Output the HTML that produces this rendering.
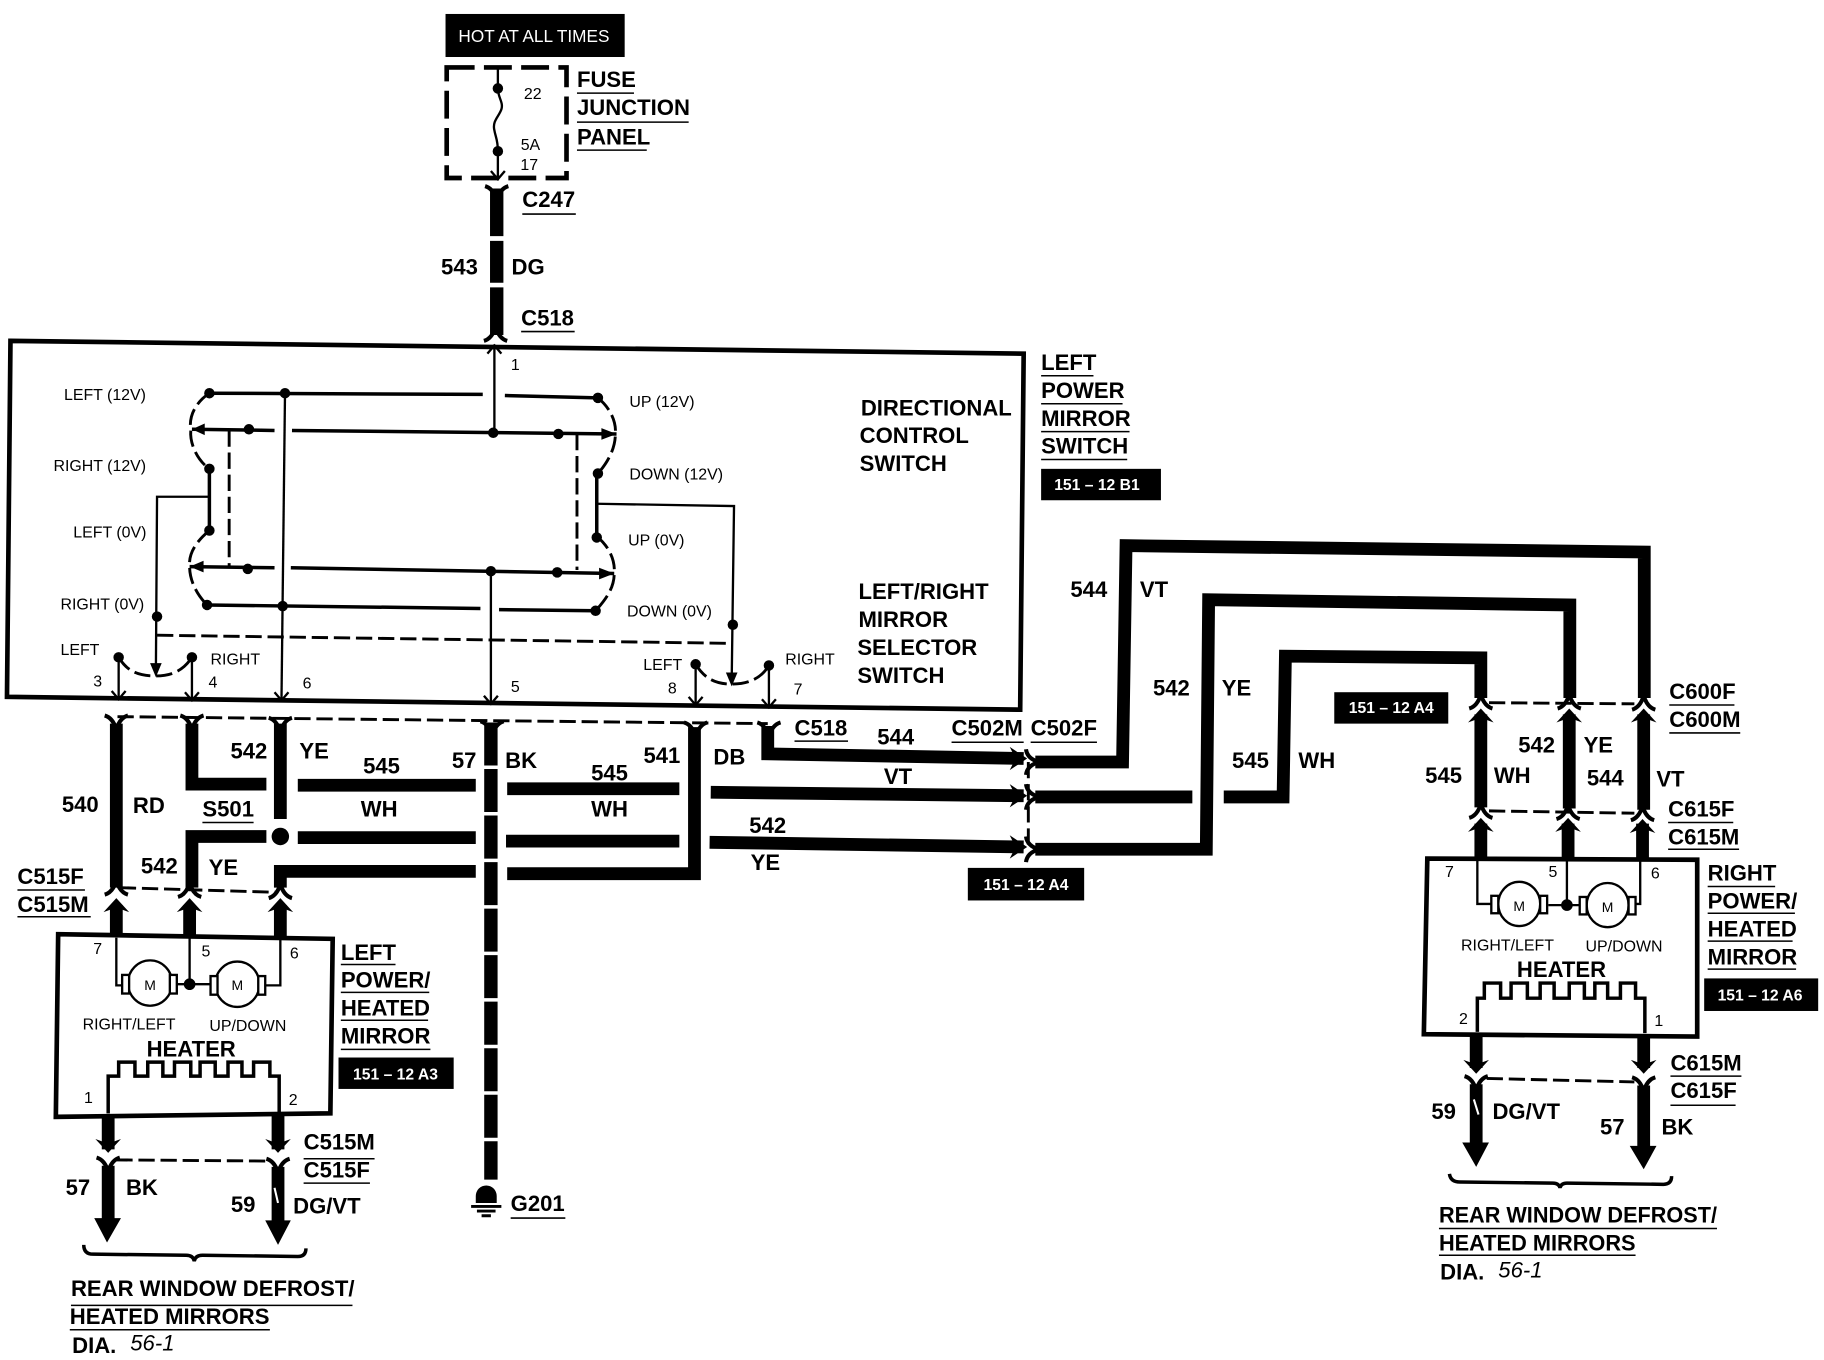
<!DOCTYPE html>
<html>
<head>
<meta charset="utf-8">
<style>
html,body{margin:0;padding:0;background:#fff}
svg{display:block}
text{font-family:"Liberation Sans",sans-serif;fill:#000}
.b{font-weight:bold;font-size:19px}
.n{font-size:13.7px}
.m{text-anchor:middle}
.w{fill:#fff;font-size:13.5px;text-anchor:middle;font-weight:bold}
.i{font-style:italic;font-size:19px}
.t{fill:none;stroke:#000;stroke-width:2}
.s{fill:none;stroke:#000;stroke-width:3}
.d{fill:none;stroke:#000;stroke-width:2.5;stroke-dasharray:14 5}
.h{fill:none;stroke:#000;stroke-width:11;stroke-linejoin:miter}
.u{fill:none;stroke:#000;stroke-width:1.3}
.f{fill:none;stroke:#000;stroke-width:3.5}
</style>
</head>
<body>
<svg xmlns="http://www.w3.org/2000/svg" width="1824" height="1360" viewBox="0 0 1568 1169" preserveAspectRatio="none">
<defs>
<path id="fu" d="M-10,-7 Q-3,-5 0,5 Q3,-5 10,-7"/>
<path id="fd" d="M-10,7 Q-3,5 0,-5 Q3,5 10,7"/>
<path id="au" d="M-11,9 L0,-3 L11,9 L0,5 Z"/>
<path id="ad" d="M-11,-9 L0,3 L11,-9 L0,-5 Z"/>
<path id="ar" d="M-9,-10 L6,0 L-9,10 L-4,0 Z"/>
<path id="fr" d="M-4,-11 Q-3,-3 7,0 Q-3,3 -4,11"/>
<path id="cd" d="M-6,-7 L0,0 L6,-7" fill="none" stroke="#000" stroke-width="2"/>
<path id="cu" d="M-6,7 L0,0 L6,7" fill="none" stroke="#000" stroke-width="2"/>
</defs>

<!-- hot box + fuse panel -->
<rect x="383" y="12" width="154" height="37" fill="#000"/>
<text class="w" x="459" y="36" style="font-weight:normal;font-size:14.8px">HOT AT ALL TIMES</text>
<rect x="384" y="58" width="103" height="95" fill="none" stroke="#000" stroke-width="4" stroke-dasharray="24 8"/>
<path class="t" d="M428,58 V76 C428,84 433,88 431,94 C429,100 423,104 425,112 C426,118 428,120 428,130 V152"/>
<circle cx="428" cy="76" r="4.5"/><circle cx="428" cy="130" r="4.5"/>
<use href="#cd" x="428" y="154"/>
<text class="n m" x="458" y="85">22</text>
<text class="n m" x="456" y="129">5A</text>
<text class="n m" x="455" y="146">17</text>
<text class="b" x="496" y="75">FUSE</text><path class="u" d="M496,80 H545"/>
<text class="b" x="496" y="99">JUNCTION</text><path class="u" d="M496,105 H592"/>
<text class="b" x="496" y="124">PANEL</text><path class="u" d="M496,129 H556"/>

<!-- wire 543 -->
<path d="M427,162 V288" fill="none" stroke="#000" stroke-width="11.5" stroke-dasharray="41 4 36 4 41"/>
<use href="#fu" x="427" y="167" class="f"/>
<use href="#fd" x="426" y="286" class="f"/>
<text class="b m" x="395" y="236">543</text>
<text class="b m" x="454" y="236">DG</text>
<text class="b" x="449" y="178">C247</text><path class="u" d="M449,184 H495"/>
<text class="b" x="448" y="280">C518</text><path class="u" d="M448,285 H494"/>

<!-- main switch box -->
<path d="M9,293 L880,304 L877,610 L6,599 Z" fill="none" stroke="#000" stroke-width="4"/>

<!-- switch internals -->
<path class="t" d="M425,296 V372"/><use href="#cu" x="425" y="297"/>
<text class="n m" x="443" y="318">1</text>
<path class="s" d="M180,338 L415,339 M434,340 L514,342"/>
<path class="s" d="M165,369 L236,370 M251,370 L530,373"/>
<path d="M165,369 L176,364 V374 Z M530,373 L517,368 V378 Z"/>
<path class="d" stroke-dasharray="9 4" d="M180,338 C168,346 162,358 164,370 C163,382 170,396 180,403"/>
<path class="d" d="M514,342 C524,350 530,362 529,373 C529,386 522,398 514,407"/>
<path class="s" d="M180,403 V456 M513,407 V462"/>
<path class="d" d="M197,370 V487 M496,373 V490"/>
<path class="s" d="M163,487 L236,488 M250,488 L528,493"/>
<path d="M163,487 L175,482 V492 Z M528,493 L515,488 V498 Z"/>
<path class="d" d="M180,456 C168,466 162,476 163,487 C163,500 170,512 178,520"/>
<path class="d" d="M513,461 C524,470 529,482 528,493 C528,506 520,516 512,525"/>
<path class="s" d="M178,520 L413,523 M429,524 L512,525"/>
<path class="t" d="M245,338 L242,600"/><use href="#cd" x="242" y="602"/>
<path class="t" d="M422,491 L422,604"/><use href="#cd" x="422" y="605"/>
<path class="t" d="M180,427 H135 L134,578"/>
<path d="M134,582 L129,570 H139 Z"/>
<path class="t" d="M513,433 L631,435 L629,585"/>
<path d="M629,590 L624,578 H634 Z"/>
<path class="d" d="M135,546 L629,553"/>
<path class="t" d="M102,565 V600 M165,565 V601 M598,571 V606 M661,572 V607"/>
<use href="#cd" x="102" y="601"/><use href="#cd" x="165" y="602"/><use href="#cd" x="598" y="606"/><use href="#cd" x="661" y="608"/>
<path class="d" stroke-dasharray="6 4" d="M102,565 C110,578 120,581 134,581 C148,581 158,576 165,565"/>
<path class="d" stroke-dasharray="6 4" d="M598,571 C606,584 616,588 629,588 C645,588 655,582 661,572"/>
<g>
<circle cx="180" cy="338" r="4.5"/><circle cx="245" cy="338" r="4.5"/><circle cx="514" cy="342" r="4.5"/>
<circle cx="214" cy="369" r="4.5"/><circle cx="424" cy="372" r="4.5"/><circle cx="480" cy="373" r="4.5"/>
<circle cx="180" cy="403" r="4.5"/><circle cx="514" cy="407" r="4.5"/>
<circle cx="180" cy="456" r="4.5"/><circle cx="513" cy="462" r="4.5"/>
<circle cx="213" cy="489" r="4.5"/><circle cx="422" cy="491" r="4.5"/><circle cx="479" cy="492" r="4.5"/>
<circle cx="178" cy="520" r="4.5"/><circle cx="243" cy="521" r="4.5"/><circle cx="512" cy="525" r="4.5"/>
<circle cx="135" cy="530" r="4.5"/><circle cx="630" cy="537" r="4.5"/>
<circle cx="102" cy="565" r="4.5"/><circle cx="165" cy="565" r="4.5"/><circle cx="598" cy="571" r="4.5"/><circle cx="661" cy="572" r="4.5"/>
</g>
<text class="n" x="55" y="344">LEFT (12V)</text>
<text class="n" x="46" y="405">RIGHT (12V)</text>
<text class="n" x="63" y="462">LEFT (0V)</text>
<text class="n" x="52" y="524">RIGHT (0V)</text>
<text class="n" x="541" y="350">UP (12V)</text>
<text class="n" x="541" y="412">DOWN (12V)</text>
<text class="n" x="540" y="469">UP (0V)</text>
<text class="n" x="539" y="530">DOWN (0V)</text>
<text class="n" x="52" y="563">LEFT</text>
<text class="n" x="181" y="571">RIGHT</text>
<text class="n" x="553" y="576">LEFT</text>
<text class="n" x="675" y="571">RIGHT</text>
<text class="n m" x="84" y="590">3</text>
<text class="n m" x="183" y="591">4</text>
<text class="n m" x="264" y="592">6</text>
<text class="n m" x="443" y="595">5</text>
<text class="n m" x="578" y="596">8</text>
<text class="n m" x="686" y="597">7</text>
<text class="b" x="740" y="357">DIRECTIONAL</text>
<text class="b" x="739" y="381">CONTROL</text>
<text class="b" x="739" y="405">SWITCH</text>
<text class="b" x="738" y="515">LEFT/RIGHT</text>
<text class="b" x="738" y="539">MIRROR</text>
<text class="b" x="737" y="563">SELECTOR</text>
<text class="b" x="737" y="587">SWITCH</text>

<text class="b" x="895" y="318">LEFT</text><path class="u" d="M895,323 H940"/>
<text class="b" x="895" y="342">POWER</text><path class="u" d="M895,347 H965"/>
<text class="b" x="895" y="366">MIRROR</text><path class="u" d="M895,371 H971"/>
<text class="b" x="895" y="390">SWITCH</text><path class="u" d="M895,395 H969"/>
<rect x="895" y="403" width="103" height="27" fill="#000"/>
<text class="w" x="943" y="421">151 – 12 B1</text>

<!-- harness connector row -->
<path class="d" stroke-width="3" stroke-dasharray="15 7" d="M101,616 L660,622"/>
<g class="f">
<use href="#fu" x="100" y="622"/><use href="#fu" x="165" y="622"/><use href="#fu" x="241" y="624"/><use href="#fu" x="423" y="627"/><use href="#fu" x="598" y="628"/><use href="#fu" x="661" y="628"/>
</g>
<path class="h" d="M100,622 V763"/>
<path class="h" d="M165,622 V674 H229"/>
<path class="h" d="M241,622 V704"/>
<circle cx="241" cy="719" r="7.5"/>
<path class="h" d="M256,675 L409,675 M436,678 L584,678 M611,681 L880,684 M890,685 L1025,685"/>
<path class="h" d="M1052,685 H1103 L1105,564 L1273,565.5 V600"/>
<path class="h" d="M165,763 V719 H229 M256,720 H409 M435,723 H584 M610,724 L880,728"/>
<path class="h" d="M890,730 H1037 L1039,515.5 L1349.5,520 V600"/>
<path class="h" d="M241,763 V749 H409 M436,751 H597 V625"/>
<path class="h" d="M660,624 V648 L880,652 M890,655 H965 L968,469 L1413.5,474.5 V600"/>
<path d="M422,621 V1014" fill="none" stroke="#000" stroke-width="11.5" stroke-dasharray="37 3"/>

<!-- C502 connectors -->
<path class="d" stroke-width="2" stroke-dasharray="8 4" d="M884,655 V730"/>
<use href="#ar" x="877" y="652"/><use href="#ar" x="877" y="684"/><use href="#ar" x="877" y="728"/>
<g class="f"><use href="#fr" x="886" y="655"/><use href="#fr" x="886" y="685"/><use href="#fr" x="886" y="730"/></g>

<!-- ground -->
<path d="M409,1034 V1028 A9,9 0 0 1 427,1028 V1034 Z"/>
<path d="M405,1037 H431 M410,1041 H426 M414,1045 H422" stroke="#000" stroke-width="2.5" fill="none"/>
<text class="b" x="439" y="1041">G201</text><path class="u" d="M439,1047 H486"/>

<!-- harness labels -->
<text class="b m" x="69" y="698">540</text><text class="b m" x="128" y="699">RD</text>
<text class="b m" x="214" y="652">542</text><text class="b m" x="270" y="652">YE</text>
<text class="b" x="174" y="702">S501</text><path class="u" d="M174,707 H218"/>
<text class="b m" x="328" y="665">545</text><text class="b m" x="326" y="702">WH</text>
<text class="b m" x="399" y="660">57</text><text class="b m" x="448" y="660">BK</text>
<text class="b m" x="524" y="671">545</text><text class="b m" x="524" y="702">WH</text>
<text class="b m" x="569" y="656">541</text><text class="b m" x="627" y="657">DB</text>
<text class="b" x="683" y="632">C518</text><path class="u" d="M683,637 H729"/>
<text class="b m" x="770" y="640">544</text><text class="b m" x="772" y="674">VT</text>
<text class="b m" x="660" y="716">542</text><text class="b m" x="658" y="748">YE</text>
<text class="b" x="818" y="632">C502M</text><path class="u" d="M818,638 H880"/>
<text class="b" x="886" y="632">C502F</text><path class="u" d="M886,638 H943"/>
<text class="b m" x="137" y="751">542</text><text class="b m" x="192" y="752">YE</text>
<rect x="832" y="746" width="100" height="28" fill="#000"/><text class="w" x="882" y="765">151 – 12 A4</text>
<rect x="1147" y="595" width="98" height="27" fill="#000"/><text class="w" x="1196" y="613">151 – 12 A4</text>
<text class="b m" x="936" y="513">544</text><text class="b m" x="992" y="513">VT</text>
<text class="b m" x="1007" y="598">542</text><text class="b m" x="1063" y="598">YE</text>
<text class="b m" x="1075" y="660">545</text><text class="b m" x="1132" y="660">WH</text>

<!-- left mirror -->
<text class="b" x="15" y="760">C515F</text><path class="u" d="M15,765 H73"/>
<text class="b" x="15" y="784">C515M</text><path class="u" d="M15,788 H78"/>
<path class="d" stroke-width="2.5" stroke-dasharray="14 6" d="M103,763 L238,767"/>
<g class="f"><use href="#fd" x="100" y="762"/><use href="#fd" x="163" y="764"/><use href="#fd" x="241" y="765"/></g>
<use href="#au" x="100" y="775"/><use href="#au" x="163" y="775"/><use href="#au" x="241" y="775"/>
<path class="h" d="M100,778 V805 M163,778 V806 M241,778 V807"/>
<path d="M50,803 L286,807 L284,957 L48,960 Z" fill="none" stroke="#000" stroke-width="4"/>
<text class="n m" x="84" y="820">7</text><text class="n m" x="177" y="822">5</text><text class="n m" x="253" y="824">6</text>
<path class="t" d="M100,806 V847 H107 M163,806 V846 M152,846 H181 M241,806 V847 H228"/>
<ellipse cx="129" cy="845" rx="19" ry="19.5" fill="#fff" stroke="#000" stroke-width="2"/>
<ellipse cx="204" cy="846" rx="19" ry="19.5" fill="#fff" stroke="#000" stroke-width="2"/>
<rect x="105" y="838" width="6" height="16" fill="#fff" stroke="#000" stroke-width="2"/>
<rect x="146" y="838" width="6" height="16" fill="#fff" stroke="#000" stroke-width="2"/>
<rect x="181" y="839" width="6" height="16" fill="#fff" stroke="#000" stroke-width="2"/>
<rect x="222" y="839" width="6" height="16" fill="#fff" stroke="#000" stroke-width="2"/>
<circle cx="163" cy="846" r="5"/>
<text class="n m" x="129" y="851" style="font-size:12px">M</text>
<text class="n m" x="204" y="851" style="font-size:12px">M</text>
<text class="n" x="71" y="885">RIGHT/LEFT</text>
<text class="n" x="180" y="886">UP/DOWN</text>
<text class="b" x="126" y="908">HEATER</text>
<path class="s" stroke-width="2.5" d="M93,957 V925 H102 V913 H116 V925 H127 V913 H140 V925 H150 V913 H164 V925 H172 V913 H185 V925 H196 V913 H208 V925 H218 V913 H232 V925 H240 V957"/>
<text class="n m" x="76" y="948">1</text><text class="n m" x="252" y="950">2</text>
<text class="b" x="293" y="825">LEFT</text><path class="u" d="M293,829 H340"/>
<text class="b" x="293" y="849">POWER/</text><path class="u" d="M293,853 H369"/>
<text class="b" x="293" y="873">HEATED</text><path class="u" d="M293,877 H368"/>
<text class="b" x="293" y="897">MIRROR</text><path class="u" d="M293,902 H370"/>
<rect x="291" y="909" width="99" height="27" fill="#000"/><text class="w" x="340" y="928">151 – 12 A3</text>

<path class="h" d="M93,958 V988 M239,958 V988"/>
<use href="#ad" x="93" y="988"/><use href="#ad" x="239" y="988"/>
<path class="d" stroke-dasharray="18 6" d="M100,997 L232,998"/>
<g class="f"><use href="#fu" x="93" y="1002"/><use href="#fu" x="239" y="1003"/></g>
<path class="h" d="M93,1002 V1048 M239,1003 V1050"/>
<path d="M81,1047 H104 L92,1068 Z M228,1049 H250 L239,1070 Z"/>
<path d="M236,1021 L239,1034" stroke="#fff" stroke-width="1.8"/>
<path class="s" d="M72,1070 Q72,1078 80,1078 L160,1079 Q166,1079 167,1084 Q168,1079 174,1079 L256,1080 Q263,1080 263,1073"/>
<text class="b m" x="67" y="1027">57</text><text class="b m" x="122" y="1027">BK</text>
<text class="b m" x="209" y="1042">59</text><text class="b" x="252" y="1043">DG/VT</text>
<text class="b" x="261" y="988">C515M</text><path class="u" d="M261,996 H322"/>
<text class="b" x="261" y="1012">C515F</text><path class="u" d="M261,1017 H318"/>
<text class="b" x="61" y="1114">REAR WINDOW DEFROST/</text><path class="u" d="M61,1122 H303"/>
<text class="b" x="60" y="1138">HEATED MIRRORS</text><path class="u" d="M60,1143 H232"/>
<text class="b" x="62" y="1163">DIA.</text><text class="i" x="112" y="1161">56-1</text>

<!-- right mirror -->
<path class="d" stroke-dasharray="16 7" d="M1280,604 L1405,605 M1280,697 L1405,699"/>
<g class="f"><use href="#fd" x="1273" y="602"/><use href="#fd" x="1349" y="602"/><use href="#fd" x="1413" y="603"/><use href="#fd" x="1273" y="696"/><use href="#fd" x="1348" y="697"/><use href="#fd" x="1412" y="698"/></g>
<use href="#au" x="1273" y="612"/><use href="#au" x="1349" y="612"/><use href="#au" x="1413" y="612"/>
<use href="#au" x="1273" y="706"/><use href="#au" x="1348" y="706"/><use href="#au" x="1412" y="707"/>
<path class="h" d="M1273,614 V694 M1349,614 V695 M1413,614 V696 M1273,708 V738 M1348,708 V738 M1412,708 V739"/>
<text class="b" x="1435" y="601">C600F</text><path class="u" d="M1435,606 H1491"/>
<text class="b" x="1435" y="625">C600M</text><path class="u" d="M1435,630 H1496"/>
<text class="b" x="1434" y="702">C615F</text><path class="u" d="M1434,707 H1490"/>
<text class="b" x="1434" y="726">C615M</text><path class="u" d="M1434,730 H1495"/>
<text class="b m" x="1321" y="647">542</text><text class="b m" x="1374" y="647">YE</text>
<text class="b m" x="1241" y="673">545</text><text class="b m" x="1300" y="673">WH</text>
<text class="b m" x="1380" y="675">544</text><text class="b m" x="1436" y="676">VT</text>
<path d="M1227,738 L1459,739 L1459,891 L1224,889 Z" fill="none" stroke="#000" stroke-width="4"/>
<text class="n m" x="1246" y="754">7</text><text class="n m" x="1335" y="754">5</text><text class="n m" x="1423" y="755">6</text>
<text class="n m" x="1258" y="880">2</text><text class="n m" x="1426" y="882">1</text>
<path class="t" d="M1270,740 V777 H1282 M1347,740 V778 M1331,778 H1364 M1410,740 V777 H1400"/>
<ellipse cx="1306" cy="777" rx="18" ry="19" fill="#fff" stroke="#000" stroke-width="2"/>
<ellipse cx="1382" cy="778" rx="18" ry="19" fill="#fff" stroke="#000" stroke-width="2"/>
<rect x="1282" y="770" width="6" height="15" fill="#fff" stroke="#000" stroke-width="2"/>
<rect x="1324" y="770" width="6" height="15" fill="#fff" stroke="#000" stroke-width="2"/>
<rect x="1358" y="771" width="6" height="15" fill="#fff" stroke="#000" stroke-width="2"/>
<rect x="1400" y="771" width="6" height="15" fill="#fff" stroke="#000" stroke-width="2"/>
<circle cx="1347" cy="778" r="5"/>
<text class="n m" x="1306" y="783" style="font-size:12px">M</text>
<text class="n m" x="1382" y="784" style="font-size:12px">M</text>
<text class="n" x="1256" y="817">RIGHT/LEFT</text>
<text class="n" x="1363" y="818">UP/DOWN</text>
<text class="b" x="1304" y="840">HEATER</text>
<path class="s" stroke-width="2.5" d="M1270,887 V858 H1276 V845 H1290 V858 H1299 V845 H1313 V858 H1324 V845 H1336 V858 H1349 V845 H1362 V858 H1371 V845 H1382 V858 H1393 V845 H1406 V858 H1414 V888"/>
<text class="b" x="1468" y="757">RIGHT</text><path class="u" d="M1468,762 H1526"/>
<text class="b" x="1468" y="781">POWER/</text><path class="u" d="M1468,785 H1543"/>
<text class="b" x="1468" y="805">HEATED</text><path class="u" d="M1468,809 H1541"/>
<text class="b" x="1468" y="829">MIRROR</text><path class="u" d="M1468,833 H1544"/>
<rect x="1465" y="841" width="98" height="28" fill="#000"/><text class="w" x="1513" y="860">151 – 12 A6</text>

<path class="h" d="M1269,890 V918 M1413,890 V918"/>
<use href="#ad" x="1269" y="920"/><use href="#ad" x="1413" y="920"/>
<path class="d" stroke-dasharray="16 7" d="M1278,927 L1405,930"/>
<g class="f"><use href="#fu" x="1269" y="932"/><use href="#fu" x="1413" y="933"/></g>
<path class="h" d="M1269,932 V984 M1413,933 V987"/>
<path d="M1257,982 H1280 L1269,1003 Z M1401,985 H1424 L1413,1005 Z"/>
<path d="M1267,945 L1271,958" stroke="#fff" stroke-width="1.8"/>
<path class="s" d="M1246,1009 Q1247,1016 1255,1016 L1335,1017 Q1340,1017 1341,1021 Q1342,1017 1347,1017 L1430,1018 Q1437,1018 1437,1011"/>
<text class="b" x="1436" y="920">C615M</text><path class="u" d="M1436,925 H1497"/>
<text class="b" x="1436" y="944">C615F</text><path class="u" d="M1436,950 H1492"/>
<text class="b m" x="1241" y="962">59</text><text class="b" x="1283" y="962">DG/VT</text>
<text class="b m" x="1386" y="975">57</text><text class="b m" x="1442" y="975">BK</text>
<text class="b" x="1237" y="1051" textLength="239" lengthAdjust="spacingAndGlyphs">REAR WINDOW DEFROST/</text><path class="u" d="M1237,1056 H1476"/>
<text class="b" x="1237" y="1075" textLength="169" lengthAdjust="spacingAndGlyphs">HEATED MIRRORS</text><path class="u" d="M1237,1079 H1406"/>
<text class="b" x="1238" y="1100">DIA.</text><text class="i" x="1288" y="1098">56-1</text>
</svg>
</body>
</html>
